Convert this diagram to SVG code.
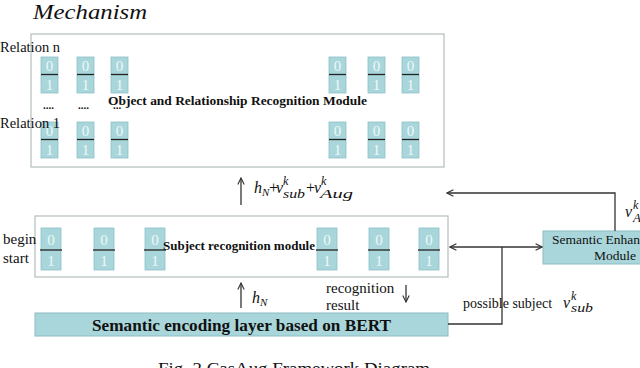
<svg xmlns="http://www.w3.org/2000/svg" width="640" height="368" viewBox="0 0 640 368" font-family="'Liberation Serif', 'DejaVu Serif', serif">
<style>
text{font-family:'Liberation Serif','DejaVu Serif',serif;fill:#111}
.b{font-weight:bold}
.m{font-style:italic}
.n{font-style:normal}
.box{fill:#fff;stroke:#b4bcbc;stroke-width:1.2}
.cell{fill:#a9d6da;stroke:#8cc0c6;stroke-width:0.8}
.dv{stroke:#222;stroke-width:1.3}
.dg{fill:#eef9f9;font-size:15px;text-anchor:middle}
.ln{fill:none;stroke:#333;stroke-width:1.3}
.tf{fill:#a9d6da;stroke:#8bbcc2;stroke-width:1}
</style>
<defs>
<marker id="ah" viewBox="0 0 10 10" refX="9" refY="5" markerWidth="8" markerHeight="8" markerUnits="userSpaceOnUse" orient="auto-start-reverse">
<path d="M1,1 L9,5 L1,9" fill="none" stroke="#333" stroke-width="1.4"/>
</marker>
<g id="c17">
<rect class="cell" x="0" y="0" width="17" height="36"/>
<line class="dv" x1="0" y1="17.5" x2="17" y2="17.5"/>
<text class="dg" x="8.5" y="14">0</text>
<text class="dg" x="8.5" y="33">1</text>
</g>
<g id="c20">
<rect class="cell" x="0" y="0" width="20" height="42"/>
<line class="dv" x1="-1" y1="22" x2="21" y2="22"/>
<text class="dg" x="10" y="17">0</text>
<text class="dg" x="10" y="38">1</text>
</g>
</defs>
<rect width="640" height="368" fill="#fff"/>

<text class="m" x="33" y="19" font-size="20" textLength="114" lengthAdjust="spacingAndGlyphs">Mechanism</text>

<g id="object-relation-module">
<rect class="box" x="31" y="34" width="413" height="133"/>
<use href="#c17" x="41" y="57"/><use href="#c17" x="77" y="57"/><use href="#c17" x="111" y="57"/>
<use href="#c17" x="329" y="57"/><use href="#c17" x="368" y="57"/><use href="#c17" x="402" y="57"/>
<use href="#c17" x="41" y="122"/><use href="#c17" x="77" y="122"/><use href="#c17" x="111" y="122"/>
<use href="#c17" x="329" y="122"/><use href="#c17" x="368" y="122"/><use href="#c17" x="402" y="122"/>
<text class="b" x="43" y="109" font-size="11">....</text>
<text class="b" x="78" y="109" font-size="11">....</text>
<text class="b" x="113" y="109" font-size="11">...</text>
<text class="b" x="108" y="105" font-size="12.5" textLength="259" lengthAdjust="spacingAndGlyphs">Object and Relationship Recognition Module</text>
<text x="0" y="52" font-size="14.5">Relation n</text>
<text x="0" y="128" font-size="14.5">Relation 1</text>
</g>

<g id="subject-module">
<rect class="box" x="35" y="216" width="413" height="61"/>
<use href="#c20" x="41" y="228"/><use href="#c20" x="94" y="228"/><use href="#c20" x="145" y="228"/>
<use href="#c20" x="317" y="228"/><use href="#c20" x="369" y="228"/><use href="#c20" x="419" y="228"/>
<text class="b" x="163" y="250" font-size="12" textLength="152" lengthAdjust="spacingAndGlyphs">Subject recognition module</text>
<text x="3" y="244" font-size="15">begin</text>
<text x="3" y="263" font-size="15">start</text>
</g>

<g id="bert-layer">
<rect class="tf" x="35" y="313" width="413" height="23"/>
<text class="b" x="92" y="331" font-size="16" textLength="299" lengthAdjust="spacingAndGlyphs">Semantic encoding layer based on BERT</text>
</g>

<g id="semantic-enhancement">
<rect class="tf" x="543" y="231" width="150" height="33"/>
<text x="552" y="244" font-size="13.5">Semantic Enhancement</text>
<text x="594" y="260" font-size="13.5">Module</text>
</g>

<g id="connectors">
<line class="ln" x1="241" y1="205" x2="241" y2="178" marker-end="url(#ah)"/>
<line class="ln" x1="241" y1="308" x2="241" y2="283" marker-end="url(#ah)"/>
<line class="ln" x1="406" y1="285" x2="406" y2="302" marker-end="url(#ah)"/>
<path class="ln" d="M448 324 H502 V247"/>
<line class="ln" x1="450" y1="247" x2="542" y2="247" marker-start="url(#ah)" marker-end="url(#ah)"/>
<path class="ln" d="M615 231 V193 H447" marker-end="url(#ah)"/>
</g>

<g id="labels">
<text class="m" font-size="16"><tspan x="254" y="193">h</tspan><tspan x="262" y="196" font-size="11">N</tspan><tspan class="n" x="269" y="193">+</tspan><tspan x="276" y="193">v</tspan><tspan x="283" y="185" font-size="12">k</tspan><tspan x="283" y="198" font-size="13" textLength="22" lengthAdjust="spacingAndGlyphs">sub</tspan><tspan class="n" x="306" y="193">+</tspan><tspan x="314" y="193">v</tspan><tspan x="321" y="185" font-size="12">k</tspan><tspan x="320" y="198" font-size="13" textLength="33" lengthAdjust="spacingAndGlyphs">Aug</tspan></text>
<text class="m" font-size="16"><tspan x="252" y="303">h</tspan><tspan x="260" y="306" font-size="11">N</tspan></text>
<text x="326" y="293" font-size="15">recognition</text>
<text x="326" y="310" font-size="15">result</text>
<text x="463" y="308" font-size="14">possible subject</text>
<text class="m" font-size="16"><tspan x="563" y="308">v</tspan><tspan x="571" y="300" font-size="12">k</tspan><tspan x="571" y="312" font-size="13" textLength="22" lengthAdjust="spacingAndGlyphs">sub</tspan></text>
<text class="m" font-size="16"><tspan x="625" y="217">v</tspan><tspan x="633" y="209" font-size="12">k</tspan><tspan x="633" y="222" font-size="13">Aug</tspan></text>
<text x="158" y="374" font-size="17" textLength="272" lengthAdjust="spacingAndGlyphs">Fig. 2 CasAug Framework Diagram</text>
</g>
</svg>
